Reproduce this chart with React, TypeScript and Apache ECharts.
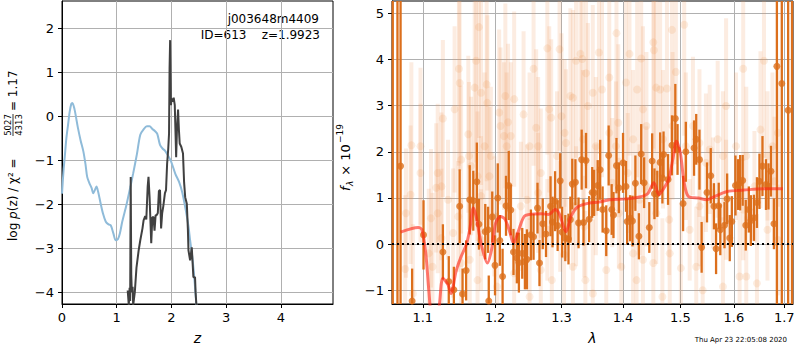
import { useEffect, useRef } from "react";
import * as echarts from "echarts";

const FONT = "DejaVu Sans";

// ---------- Left panel: log p(z) ----------
const zTicks = [0, 1, 2, 3, 4];
const logpTicks = [-4, -3, -2, -1, 0, 1, 2];

const blueZ = [0, 0.03, 0.05, 0.08, 0.11, 0.14, 0.17, 0.19, 0.23, 0.26, 0.29, 0.34, 0.39, 0.43, 0.46, 0.5, 0.54, 0.57, 0.6, 0.63, 0.66, 0.7, 0.75, 0.8, 0.85, 0.89, 0.94, 0.98, 1.02, 1.06, 1.1, 1.18, 1.25, 1.3, 1.37, 1.43, 1.49, 1.55, 1.6, 1.65, 1.7, 1.74, 1.79, 1.84, 1.88, 1.93, 1.99, 2.07, 2.14, 2.2, 2.27, 2.31, 2.34, 2.38, 2.41, 2.44, 2.46];
const blueLogP = [-1.76, -1.2, -0.93, -0.5, -0.2, 0.1, 0.28, 0.3, 0.15, -0.05, -0.26, -0.55, -0.8, -1.1, -1.38, -1.52, -1.63, -1.75, -1.68, -1.6, -1.72, -1.95, -2.22, -2.4, -2.46, -2.48, -2.67, -2.82, -2.8, -2.65, -2.4, -2.0, -1.6, -1.3, -0.85, -0.42, -0.3, -0.23, -0.23, -0.29, -0.34, -0.4, -0.65, -0.74, -0.78, -0.88, -1.02, -1.31, -1.5, -1.75, -2.2, -2.5, -2.82, -3.2, -3.58, -4.05, -4.4];

const darkZ = [1.2, 1.22, 1.235, 1.245, 1.255, 1.265, 1.275, 1.29, 1.3, 1.33, 1.36, 1.4, 1.43, 1.47, 1.49, 1.52, 1.54, 1.565, 1.58, 1.6, 1.63, 1.65, 1.67, 1.69, 1.71, 1.73, 1.75, 1.77, 1.79, 1.81, 1.83, 1.85, 1.88, 1.9, 1.92, 1.94, 1.955, 1.965, 1.975, 1.985, 1.99, 2.0, 2.02, 2.04, 2.06, 2.075, 2.085, 2.1, 2.12, 2.135, 2.15, 2.18, 2.21, 2.23, 2.25, 2.28, 2.3, 2.31, 2.34, 2.37, 2.4, 2.43, 2.44, 2.46];
const darkLogP = [-3.96, -4.3, -3.9, -4.2, -1.38, -3.6, -4.0, -3.88, -4.3, -4.0, -3.45, -3.05, -2.82, -2.55, -2.37, -2.27, -2.35, -1.6, -1.38, -1.85, -2.89, -2.3, -2.29, -2.6, -2.25, -2.25, -2.2, -1.7, -1.68, -2.55, -2.2, -2.05, -1.75, -1.68, -1.08, -0.75, -0.4, 1.1, 1.73, 0.8, 0.25, 0.4, 0.33, 0.42, 0.25, -0.45, -0.93, -0.3, 0.15, -0.3, -0.62, -0.7, -0.85, -1.5, -1.84, -1.99, -2.6, -3.05, -3.28, -2.98, -3.66, -3.66, -4.0, -4.4];

// ---------- Right panel: spectrum ----------
const lamTicks = [1.1, 1.2, 1.3, 1.4, 1.5, 1.6, 1.7];
const fluxTicks = [-1, 0, 1, 2, 3, 4, 5];
const LAM_MIN = 1.06;
const LAM_MAX = 1.718;

const darkLam = [
  1.061, 1.067, 1.071, 1.086, 1.101, 1.127, 1.135, 1.142, 1.15, 1.154,
  1.159, 1.164, 1.169, 1.174, 1.177, 1.186, 1.19, 1.191, 1.196, 1.2,
  1.204, 1.207, 1.211, 1.216, 1.22, 1.223, 1.227, 1.232, 1.235, 1.24,
  1.244, 1.247, 1.253, 1.257, 1.263, 1.266, 1.271, 1.276, 1.283, 1.286,
  1.29, 1.294, 1.298, 1.301, 1.306, 1.311, 1.314, 1.317, 1.322, 1.327,
  1.332, 1.335, 1.339, 1.344, 1.349, 1.352, 1.358, 1.362, 1.366, 1.372,
  1.376, 1.381, 1.384, 1.389, 1.393, 1.4, 1.405, 1.407, 1.412, 1.416,
  1.421, 1.427, 1.431, 1.436, 1.445, 1.45, 1.454, 1.459, 1.464, 1.468,
  1.47, 1.478, 1.485, 1.491, 1.495, 1.505, 1.51, 1.525, 1.529, 1.535,
  1.539, 1.549, 1.556, 1.562, 1.566, 1.571, 1.574, 1.582, 1.587, 1.592,
  1.596, 1.603, 1.608, 1.612, 1.617, 1.623, 1.629, 1.633, 1.639, 1.645,
  1.65, 1.656, 1.663, 1.668, 1.673, 1.679, 1.685, 1.695, 1.708, 1.716,
];
const darkFlux = [
  6.0, -2.5, 1.69, -1.23, 0.2, -0.17, -0.81, -0.99, 0.82, -1.08,
  -0.57, 0.96, 0.94, 1.35, 0.43, 0.27, 0.31, -1.23, 0.59, -0.46,
  1.0, 0.08, -0.7, 0.83, 1.27, 0.74, -0.17, -0.3, -0.4, -0.2,
  -0.38, -0.33, 0.2, 0.16, 0.78, -0.41, 0.44, 0.22, 0.82, 0.48,
  0.93, 0.4, 1.37, 0.26, 0.13, 0.11, 0.53, 1.3, 1.34, 0.46,
  1.83, 0.47, 1.81, 0.54, 1.12, 1.11, 1.27, 1.61, 0.75, 0.29,
  1.92, 0.75, 0.63, 1.7, 1.22, 1.76, 1.25, 0.49, 0.56, 0.5,
  1.32, 0.17, 1.95, 1.33, 0.36, 1.8, 1.09, 1.09, 1.77, 1.43,
  1.94, 1.4, 2.14, 2.72, 2.05, 0.88, 2.0, 2.08, 2.27, 1.83,
  -0.07, 1.12, 1.48, 0.82, -0.1, 0.83, 0.31, 0.41, 0.98, 0.13,
  0.49, 1.27, 1.29, 1.33, 1.38, 0.41, 0.75, 0.51, 0.57, 0.9,
  1.36, 1.69, 1.29, 1.25, 1.58, 0.44, 3.85, 3.48, 2.9, 8.0,
];
const darkErr = [
  12, 12, 9, 0.7, 0.75, 0.6, 0.55, 0.5, 0.8, 0.55,
  0.65, 0.75, 0.65, 0.85, 0.55, 0.6, 0.5, 0.55, 0.55, 0.65,
  0.75, 0.55, 0.6, 0.65, 0.75, 0.55, 0.5, 0.55, 0.65, 0.55,
  0.6, 0.65, 0.55, 0.5, 0.55, 0.5, 0.55, 0.5, 0.65, 0.55,
  0.65, 0.55, 0.6, 0.55, 0.5, 0.55, 0.5, 0.55, 0.5, 0.55,
  0.65, 0.5, 0.6, 0.5, 0.55, 0.5, 0.55, 0.65, 0.5, 0.55,
  0.65, 0.55, 0.5, 0.6, 0.55, 0.65, 0.55, 0.5, 0.5, 0.55,
  0.6, 0.5, 0.65, 0.55, 0.55, 0.6, 0.55, 0.5, 0.65, 0.55,
  0.5, 0.55, 0.65, 0.75, 0.55, 0.6, 0.65, 0.6, 0.55, 0.65,
  0.55, 0.65, 0.6, 0.5, 0.55, 0.5, 0.55, 0.5, 0.55, 0.5,
  0.55, 0.65, 0.55, 0.6, 0.55, 0.55, 0.5, 0.55, 0.5, 0.55,
  0.6, 0.65, 0.55, 0.5, 0.55, 0.55, 9, 9, 9, 12,
];

const faintLam = [
  1.085, 1.084, 1.078, 1.077, 1.097, 1.177, 1.173, 1.171, 1.149, 1.15,
  1.143, 1.127, 1.12, 1.118, 1.125, 1.134, 1.111, 1.108, 1.113, 1.125,
  1.141, 1.18, 1.189, 1.188, 1.185, 1.192, 1.162, 1.163, 1.166, 1.175,
  1.18, 1.206, 1.208, 1.213, 1.215, 1.219, 1.223, 1.228, 1.242, 1.251,
  1.257, 1.261, 1.268, 1.278, 1.281, 1.284, 1.297, 1.3, 1.305, 1.314,
  1.318, 1.323, 1.33, 1.333, 1.339, 1.342, 1.35, 1.36, 1.365, 1.377,
  1.389, 1.392, 1.405, 1.411, 1.424, 1.431, 1.434, 1.452, 1.453, 1.457,
  1.464, 1.476, 1.485, 1.492, 1.507, 1.51, 1.535, 1.547, 1.569, 1.585,
  1.604, 1.618, 1.659, 1.652, 1.676, 1.68,
  1.087, 1.152, 1.164, 1.175, 1.203, 1.228, 1.251, 1.268, 1.285, 1.304,
  1.318, 1.338, 1.35, 1.372, 1.397, 1.417, 1.423, 1.434, 1.452, 1.468,
  1.481, 1.501, 1.529, 1.541, 1.579, 1.611, 1.624, 1.645,
  1.12, 1.148, 1.18, 1.199, 1.238, 1.247, 1.264, 1.278, 1.298, 1.323,
  1.336, 1.355, 1.382, 1.393, 1.408, 1.428, 1.44, 1.457, 1.48, 1.517,
  1.535, 1.56, 1.585, 1.618, 1.64, 1.666, 1.687,
  1.097, 1.152, 1.194, 1.217, 1.264, 1.293, 1.307, 1.334, 1.355, 1.377,
  1.388, 1.417, 1.44, 1.469, 1.486, 1.523, 1.554, 1.579, 1.624, 1.666,
  1.687,
];
const faintFlux = [
  2.14, 1.07, 0.67, -0.54, 2.12, 4.7, 3.97, 3.39, 3.8, 3.49,
  2.92, 2.72, 1.54, 1.22, 1.25, 0.96, 0.56, -0.2, -0.49, 0.13,
  0.24, 3.28, 3.06, 3.46, 2.12, 1.47, 2.38, 1.91, 1.69, 1.47,
  1.04, 2.85, 2.56, 2.34, 3.21, 2.64, 2.34, 3.14, 2.81, 2.12,
  3.8, 2.52, 1.54, 4.24, 2.92, 2.74, 4.22, 2.77, 2.41, 3.21,
  3.17, 3.97, 4.12, 4.01, 3.7, 2.99, 3.28, 4.15, 3.35, 3.61,
  4.57, 2.63, 3.5, 4.12, 3.35, 4.02, 2.92, 4.37, 4.2, 3.39,
  3.35, 3.37, 4.64, 3.73, 4.75, 2.12, 2.19, 1.76, 2.27, 2.99,
  2.12, 3.8, 3.97, 2.48, 2.12, 1.36,
  -1.07, -0.41, -0.34, -0.78, -0.92, -0.63, -1.14, -0.56, -0.78, -0.23,
  -0.49, -0.78, -1.07, -0.56, -0.49, -0.2, -0.78, -0.34, -0.41, -1.14,
  -0.2, -0.52, -0.49, -1.0, -0.92, -0.7, -0.7, -0.85,
  0.67, 0.6, 0.09, 0.6, 0.82, 0.96, 1.11, 0.31, 0.6, 0.82,
  0.38, 0.96, 1.33, 0.67, 1.54, 0.96, 1.25, 0.67, 0.53, 0.31,
  0.82, 1.11, 0.96, 0.75, 1.25, 0.31, 0.09,
  1.54, 1.83, 1.91, 2.12, 2.12, 1.91, 2.19, 2.27, 2.12, 2.41,
  2.12, 2.27, 2.56, 2.27, 2.56, 2.56, 2.05, 1.91, 1.91, 1.91,
  2.41,
];
const faintErr = [
  1.8, 1.5, 1.4, 1.6, 1.7, 2.4, 2.2, 2.0, 2.1, 1.9,
  1.8, 1.7, 1.5, 1.4, 1.6, 1.3, 1.5, 1.4, 1.6, 1.5,
  1.4, 2.0, 1.9, 2.1, 1.6, 1.5, 1.7, 1.6, 1.5, 1.4,
  1.3, 1.8, 1.7, 1.6, 2.0, 1.7, 1.6, 1.9, 1.8, 1.6,
  2.1, 1.7, 1.4, 2.3, 1.8, 1.7, 2.2, 1.8, 1.6, 1.9,
  1.9, 2.1, 2.2, 2.1, 2.0, 1.8, 1.9, 2.2, 1.9, 2.0,
  2.3, 1.7, 2.0, 2.2, 1.9, 2.1, 1.8, 2.3, 2.2, 1.9,
  1.9, 1.9, 2.4, 2.0, 2.4, 1.6, 1.6, 1.5, 1.7, 1.9,
  1.6, 2.0, 2.1, 1.7, 1.6, 1.4,
  1.5, 1.4, 1.3, 1.5, 1.6, 1.4, 1.7, 1.3, 1.5, 1.2,
  1.4, 1.5, 1.6, 1.3, 1.4, 1.2, 1.5, 1.3, 1.4, 1.7,
  1.2, 1.4, 1.3, 1.6, 1.5, 1.4, 1.3, 1.5,
  1.3, 1.2, 1.1, 1.3, 1.4, 1.2, 1.3, 1.1, 1.2, 1.3,
  1.1, 1.2, 1.4, 1.2, 1.3, 1.2, 1.3, 1.1, 1.2, 1.1,
  1.3, 1.2, 1.3, 1.1, 1.2, 1.1, 1.2,
  1.5, 1.6, 1.5, 1.6, 1.5, 1.4, 1.6, 1.5, 1.5, 1.6,
  1.4, 1.5, 1.6, 1.5, 1.6, 1.5, 1.4, 1.4, 1.5, 1.4,
  1.6,
];

const modelLam = [1.071, 1.094, 1.099, 1.104, 1.108, 1.112, 1.118, 1.122, 1.127, 1.134, 1.138, 1.145, 1.152, 1.159, 1.164, 1.169, 1.173, 1.18, 1.189, 1.195, 1.201, 1.208, 1.215, 1.222, 1.227, 1.234, 1.243, 1.255, 1.27, 1.28, 1.29, 1.296, 1.304, 1.307, 1.315, 1.325, 1.344, 1.36, 1.377, 1.405, 1.428, 1.442, 1.453, 1.462, 1.47, 1.479, 1.487, 1.493, 1.5, 1.507, 1.515, 1.533, 1.548, 1.563, 1.587, 1.619, 1.657, 1.697];
const modelFlux = [0.26, 0.36, 0.31, -0.2, -0.99, -1.6, -1.7, -1.35, -0.74, -0.88, -1.07, -0.59, -0.27, -0.02, 0.31, 0.78, 0.6, 0.02, -0.41, -0.12, 0.46, 0.6, 0.53, 0.24, 0.02, 0.27, 0.6, 0.65, 0.66, 0.64, 0.75, 0.67, 0.35, 0.27, 0.6, 0.8, 0.89, 0.91, 0.96, 0.98, 1.02, 1.09, 1.33, 1.07, 1.2, 1.4, 1.87, 2.23, 1.98, 1.33, 1.03, 1.0, 0.96, 1.03, 1.14, 1.17, 1.2, 1.2];

const fmtMinus = (v: number) => (v < 0 ? "\u2212" + Math.abs(v) : String(v));

export default function App() {
  const ref = useRef<HTMLDivElement>(null);

  useEffect(() => {
    const chart = echarts.init(ref.current!, null, { renderer: "svg" });
    const lg = (v: number) => Math.log10(v);

    const errRender = (color: string, width: number) => (params: any, api: any) => {
      const x = api.value(0);
      const y = api.value(1);
      const e = api.value(2);
      const cs = params.coordSys;
      const p1 = api.coord([x, y - e]);
      const p2 = api.coord([x, y + e]);
      const top = cs.y;
      const bot = cs.y + cs.height;
      if (p1[0] < cs.x - 1 || p1[0] > cs.x + cs.width + 1) return null;
      const y1 = Math.min(Math.max(p1[1], top), bot);
      const y2 = Math.min(Math.max(p2[1], top), bot);
      return {
        type: "line",
        shape: { x1: p1[0], y1, x2: p1[0], y2 },
        style: { stroke: color, lineWidth: width },
      };
    };

    const axisCommon = {
      axisLine: { show: true, onZero: false, lineStyle: { color: "#000", width: 1 } },
      splitLine: { show: true, lineStyle: { color: "#b0b0b0", width: 1 } },
    };
    const labelStyle = { color: "#000", fontSize: 13, fontFamily: FONT };
    const tickStyle = { show: true, inside: false, length: 4, lineStyle: { color: "#000", width: 1 } };

    const txt = (x: number, y: number, text: string, size: number, extra: any = {}) => ({
      type: "text",
      x,
      y,
      rotation: extra.rotation ?? 0,
      style: {
        text,
        fill: "#000",
        fontSize: size,
        fontFamily: FONT,
        fontStyle: extra.fontStyle ?? "normal",
        align: extra.align ?? "left",
        textAlign: extra.align ?? "left",
        verticalAlign: "middle",
        textVerticalAlign: "middle",
        rich: extra.rich,
      },
    });
    const R = Math.PI / 2;

    chart.setOption({
      animation: false,
      textStyle: { fontFamily: FONT },
      grid: [
        { left: 62, top: 1, width: 271, height: 303, show: true, borderColor: "#000", borderWidth: 1, backgroundColor: "transparent" },
        { left: 392, top: 1, width: 401, height: 303, show: true, borderColor: "#000", borderWidth: 1, backgroundColor: "transparent" },
      ],
      xAxis: [
        {
          gridIndex: 0,
          type: "value",
          min: 0,
          max: 4.95,
          ...axisCommon,
          axisTick: { ...tickStyle, customValues: zTicks },
          axisLabel: { ...labelStyle, margin: 7, customValues: zTicks, formatter: fmtMinus },
          name: "z",
          nameLocation: "middle",
          nameGap: 27,
          nameTextStyle: { color: "#000", fontSize: 14, fontStyle: "italic", fontFamily: FONT },
        },
        {
          gridIndex: 1,
          type: "value",
          min: lg(LAM_MIN),
          max: lg(LAM_MAX),
          ...axisCommon,
          axisTick: { ...tickStyle, customValues: lamTicks.map(lg) },
          axisLabel: {
            ...labelStyle,
            margin: 7,
            customValues: lamTicks.map(lg),
            formatter: (v: number) => Math.pow(10, v).toFixed(1),
          },
          name: "λ",
          nameLocation: "middle",
          nameGap: 27,
          nameTextStyle: { color: "#000", fontSize: 14, fontStyle: "italic", fontFamily: FONT },
        },
      ],
      yAxis: [
        {
          gridIndex: 0,
          type: "value",
          min: -4.27,
          max: 2.62,
          ...axisCommon,
          axisTick: { ...tickStyle, customValues: logpTicks },
          axisLabel: { ...labelStyle, margin: 8, customValues: logpTicks, formatter: fmtMinus },
        },
        {
          gridIndex: 1,
          type: "value",
          min: -1.297,
          max: 5.266,
          ...axisCommon,
          axisTick: { ...tickStyle, customValues: fluxTicks },
          axisLabel: { ...labelStyle, margin: 8, customValues: fluxTicks, formatter: fmtMinus },
        },
      ],
      series: [
        {
          type: "line",
          xAxisIndex: 0,
          yAxisIndex: 0,
          data: blueZ.map((z, i) => [z, blueLogP[i]]),
          showSymbol: false,
          smooth: 0.3,
          lineStyle: { color: "#8fbbd9", width: 2 },
          z: 3,
        },
        {
          type: "line",
          xAxisIndex: 0,
          yAxisIndex: 0,
          data: darkZ.map((z, i) => [z, darkLogP[i]]),
          showSymbol: false,
          lineStyle: { color: "#404040", width: 2 },
          z: 4,
        },
        {
          type: "custom",
          xAxisIndex: 1,
          yAxisIndex: 1,
          data: faintLam.map((l, i) => [lg(l), faintFlux[i], faintErr[i]]),
          encode: { x: 0, y: 1 },
          renderItem: errRender("rgba(240,150,90,0.18)", 4),
          z: 2,
        },
        {
          type: "scatter",
          xAxisIndex: 1,
          yAxisIndex: 1,
          data: faintLam.map((l, i) => [lg(l), faintFlux[i]]),
          symbolSize: 8,
          itemStyle: { color: "rgba(235,140,70,0.2)" },
          z: 2,
        },
        {
          type: "custom",
          xAxisIndex: 1,
          yAxisIndex: 1,
          data: darkLam.map((l, i) => [lg(l), darkFlux[i], darkErr[i]]),
          encode: { x: 0, y: 1 },
          renderItem: errRender("#dc6f1c", 2.3),
          z: 3,
        },
        {
          type: "scatter",
          xAxisIndex: 1,
          yAxisIndex: 1,
          data: darkLam.map((l, i) => [lg(l), darkFlux[i]]),
          symbolSize: 7,
          itemStyle: { color: "#dc6f1c" },
          z: 3,
        },
        {
          type: "line",
          xAxisIndex: 1,
          yAxisIndex: 1,
          data: modelLam.map((l, i) => [lg(l), modelFlux[i]]),
          showSymbol: false,
          smooth: 0.3,
          lineStyle: { color: "rgba(255,35,20,0.6)", width: 3 },
          z: 5,
          markLine: {
            silent: true,
            symbol: "none",
            label: { show: false },
            lineStyle: { color: "#000", type: [2, 3], width: 2 },
            data: [{ yAxis: 0 }],
            z: 6,
          },
        },
      ],
      graphic: [
        txt(319, 19, "j003648m4409", 12, { align: "right" }),
        txt(320, 35, "ID=613    z=1.9923", 12, { align: "right" }),
        txt(13, 241, "log {i|p}(z) / χ² =", 12, {
          rotation: R,
          rich: { i: { fontStyle: "italic", fontSize: 12, fontFamily: FONT, fill: "#000" } },
        }),
        txt(8, 125, "5027", 8.5, { rotation: R, align: "center" }),
        txt(18.5, 125, "4313", 8.5, { rotation: R, align: "center" }),
        {
          type: "line",
          shape: { x1: 13, y1: 114, x2: 13, y2: 136 },
          style: { stroke: "#000", lineWidth: 0.8 },
        },
        txt(13, 111, "= 1.17", 12, { rotation: R }),
        txt(345, 191, "f", 13, { rotation: R, fontStyle: "italic" }),
        txt(349.5, 186, "λ", 9, { rotation: R, fontStyle: "italic" }),
        txt(345, 180, " × 10", 13, { rotation: R }),
        txt(340, 143, "\u221219", 9, { rotation: R }),
        txt(787, 340, "Thu Apr 23 22:05:08 2020", 7, { align: "right" }),
      ],
    });

    return () => chart.dispose();
  }, []);

  return <div ref={ref} style={{ position: "absolute", left: 0, top: 0, width: 800, height: 350 }} />;
}
